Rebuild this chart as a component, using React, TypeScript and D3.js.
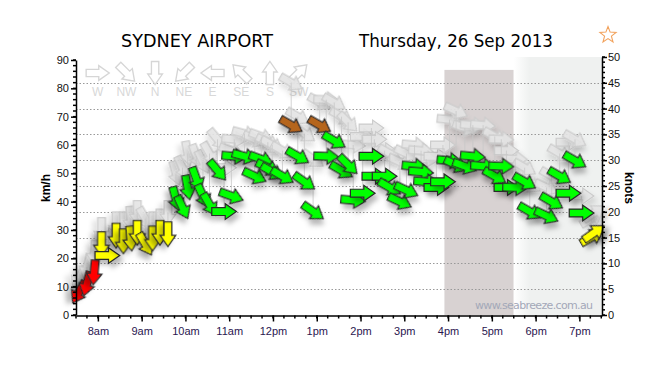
import React, { useEffect, useRef } from 'react';
import * as d3 from 'd3';

// observations (local time), speed + gust in km/h, direction wind comes FROM (deg)
const times = [
  "07:34", "07:45", "07:55", "08:05", "08:13", "08:25", "08:35", "08:45", "08:54", "09:05",
  "09:15", "09:25", "09:36", "09:47", "09:56", "10:03", "10:15", "10:24", "10:33", "10:44",
  "10:53", "11:03", "11:07", "11:21", "11:35", "11:44", "11:53", "11:59", "12:13", "12:25",
  "12:34", "12:43", "12:55", "13:04", "13:13", "13:24", "13:34", "13:43", "13:50", "14:03",
  "14:15", "14:19", "14:33", "14:40", "14:54", "15:03", "15:14", "15:23", "15:30", "15:44",
  "15:53", "16:02", "16:11", "16:23", "16:34", "16:48", "17:04", "17:13", "17:20", "17:32",
  "17:45", "17:52", "18:15", "18:22", "18:33", "18:45", "18:54", "19:03", "19:17", "19:20",
];
const speeds = [
  8, 11, 15, 25, 21, 28, 26, 27, 29, 25,
  27, 29, 28.5, 41, 38, 45, 48, 42, 39, 51,
  36.5, 42, 56, 56, 49, 55, 52, 50.5, 49, 67,
  56, 47, 36.5, 67, 56, 61.5, 51, 53, 40.5, 43,
  56, 49, 49, 45, 40, 44, 52.5, 50.5, 47, 45,
  47, 54.5, 53, 52.5, 56, 52.5, 49, 52.5, 45, 45,
  47, 36.5, 35, 40, 49, 43, 54.5, 36, 27.5, 29,
];
const gusts = [
  13, 17, 22, 30, 28, 32, 32, 34, 36, 34,
  32, 33, 36, 50, 52, 57, 56, 54, 57, 62,
  52, 58, 62, 64, 62, 63, 61, 60, 58, 82,
  70, 64, 55, 75, 76, 75, 70, 68, 60, 63,
  66, 62, 58, 57, 54, 57, 60, 58, 55, 56,
  60, 69, 72, 66, 67, 67, 63, 62, 58, 55,
  52, 46, 45, 49, 57, 61, 62, 42, 34, 36,
];
const directions = [
  30, 15, 5, 0, 270, 0, 0, 355, 0, 330,
  0, 0, 0, 345, 335, 350, 340, 335, 330, 320,
  270, 290, 275, 285, 295, 290, 295, 300, 300, 300,
  300, 305, 305, 300, 272, 300, 300, 315, 275, 270,
  270, 270, 270, 300, 295, 295, 275, 275, 275, 270,
  270, 275, 295, 290, 275, 275, 300, 272, 270, 272,
  300, 300, 295, 300, 300, 270, 300, 270, 240, 235,
];

const compassLabels = ["W", "NW", "N", "NE", "E", "SE", "S", "SW"];
const compassDirs = [270, 315, 0, 45, 90, 135, 180, 225];
const hourLabels = ["8am", "9am", "10am", "11am", "12pm", "1pm", "2pm", "3pm", "4pm", "5pm", "6pm", "7pm"];
const kmhTicks = [0, 10, 20, 30, 40, 50, 60, 70, 80, 90];
const knotTicks = [0, 5, 10, 15, 20, 25, 30, 35, 40, 45, 50];
const darkBand = ["15:55", "17:30"];
const lightBand = ["17:30", "19:31"];

const arrowPath = "M-11,-3.5L1,-3.5L1,-7L11,0L1,7L1,3.5L-11,3.5Z";

function App() {
  const svgRef = useRef(null);

  useEffect(() => {
    const width = 662;
    const height = 369;
    const parse = d3.timeParse("%H:%M");

    const svg = d3.select(svgRef.current)
      .attr("width", width)
      .attr("height", height);
    svg.selectAll("*").remove();

    const x = d3.scaleTime()
      .domain([parse("07:30"), parse("19:31")])
      .range([76, 602]);
    const kmh = d3.scaleLinear().domain([0, 90]).range([315, 60]);
    const knots = d3.scaleLinear().domain([0, 50]).range([315, 57]);

    const color = d3.scaleThreshold()
      .domain([10, 18, 35])
      .range(["#ff0000", "#ffff00", "#00ff00", "#b5651d"]);

    const defs = svg.append("defs");
    const sh = defs.append("filter").attr("id", "shadow")
      .attr("x", "-60%").attr("y", "-60%").attr("width", "220%").attr("height", "220%");
    sh.append("feDropShadow").attr("dx", 3).attr("dy", 4).attr("stdDeviation", 2.5)
      .attr("flood-color", "#000").attr("flood-opacity", 0.28);
    const sh2 = defs.append("filter").attr("id", "shadowLight")
      .attr("x", "-60%").attr("y", "-60%").attr("width", "220%").attr("height", "220%");
    sh2.append("feDropShadow").attr("dx", 3).attr("dy", 4).attr("stdDeviation", 2.5)
      .attr("flood-color", "#000").attr("flood-opacity", 0.12);
    const grad = defs.append("linearGradient").attr("id", "fade")
      .attr("x1", 0).attr("x2", 1).attr("y1", 0).attr("y2", 0);
    grad.append("stop").attr("offset", "0%").attr("stop-color", "#ffffff");
    grad.append("stop").attr("offset", "18%").attr("stop-color", "#eff1f0");
    grad.append("stop").attr("offset", "100%").attr("stop-color", "#eff1f0");

    svg.append("rect").attr("width", width).attr("height", height).attr("fill", "#fff");

    // shaded periods
    svg.append("rect")
      .attr("x", x(parse(darkBand[0])))
      .attr("y", knots(47.5))
      .attr("width", x(parse(darkBand[1])) - x(parse(darkBand[0])))
      .attr("height", knots(0) - knots(47.5))
      .attr("fill", "#d8d2d2");
    svg.append("rect")
      .attr("x", x(parse(lightBand[0])))
      .attr("y", knots(50))
      .attr("width", x(parse(lightBand[1])) - x(parse(lightBand[0])))
      .attr("height", knots(0) - knots(50))
      .attr("fill", "url(#fade)");

    // dotted grid on knots
    svg.append("g").selectAll("line")
      .data(knotTicks.filter((d) => d > 0 && d < 50))
      .enter().append("line")
      .attr("x1", 76).attr("x2", 602)
      .attr("y1", (d) => Math.round(knots(d)) + 0.5)
      .attr("y2", (d) => Math.round(knots(d)) + 0.5)
      .attr("stroke", "#999")
      .attr("stroke-dasharray", "1.5,2");

    svg.append("text")
      .attr("x", 534).attr("y", 309)
      .attr("text-anchor", "middle")
      .attr("font-family", "DejaVu Sans, sans-serif")
      .attr("font-size", 11)
      .attr("fill", "#a3a8b8")
      .attr("textLength", 118)
      .text("www.seabreeze.com.au");

    // compass key
    const key = svg.append("g").selectAll("g")
      .data(compassLabels)
      .enter().append("g")
      .attr("transform", (d, i) => `translate(${97.7 + i * 28.7},0)`);
    key.append("path")
      .attr("d", arrowPath)
      .attr("transform", (d, i) => `translate(0,73) rotate(${compassDirs[i] + 90}) scale(1.05)`)
      .attr("fill", "#fff")
      .attr("stroke", "#d6d6d6")
      .attr("stroke-width", 1.3);
    key.append("text")
      .attr("y", 96)
      .attr("text-anchor", "middle")
      .attr("font-family", "Liberation Sans, Arial, sans-serif")
      .attr("font-size", 12)
      .attr("fill", "#d8d8d8")
      .text((d) => d);

    const obs = times.map((t, i) => ({
      x: x(parse(t)),
      ys: kmh(speeds[i]),
      yg: kmh(gusts[i]),
      speed: speeds[i],
      dir: directions[i],
    }));

    // gust arrows
    svg.append("g").selectAll("path")
      .data(obs)
      .enter().append("path")
      .attr("d", arrowPath)
      .attr("transform", (d) => `translate(${d.x},${d.yg}) rotate(${d.dir + 90}) scale(1.12)`)
      .attr("fill", "#e4e4e4")
      .attr("fill-opacity", 0.9)
      .attr("stroke", "#cbcbcb")
      .attr("filter", "url(#shadowLight)");

    svg.append("g").selectAll("line")
      .data(obs)
      .enter().append("line")
      .attr("x1", (d) => d.x).attr("y1", (d) => d.ys)
      .attr("x2", (d) => d.x).attr("y2", (d) => d.yg)
      .attr("stroke", "#c8c8c8")
      .attr("stroke-width", 0.8);

    // wind arrows
    svg.append("g").selectAll("path")
      .data(obs)
      .enter().append("path")
      .attr("d", arrowPath)
      .attr("transform", (d) => `translate(${d.x},${d.ys}) rotate(${d.dir + 90}) scale(1.12)`)
      .attr("fill", (d) => color(d.speed / 1.852))
      .attr("stroke", "#2a2a2a")
      .attr("stroke-width", 1.1)
      .attr("filter", "url(#shadow)");

    const fontAxis = "Liberation Sans, Arial, sans-serif";

    // left axis
    const left = svg.append("g").attr("transform", "translate(76,0)");
    left.selectAll(".minor")
      .data(d3.range(0, 91, 2))
      .enter().append("line")
      .attr("x1", -3).attr("x2", 0)
      .attr("y1", (d) => kmh(d)).attr("y2", (d) => kmh(d))
      .attr("stroke", "#000").attr("stroke-width", 1.5);
    left.call(d3.axisLeft(kmh).tickValues(kmhTicks).tickSize(5).tickPadding(2).tickSizeOuter(0));

    // right axis
    const right = svg.append("g").attr("transform", "translate(602,0)");
    right.selectAll(".minor")
      .data(d3.range(0, 51, 1))
      .enter().append("line")
      .attr("x1", 0).attr("x2", 3)
      .attr("y1", (d) => knots(d)).attr("y2", (d) => knots(d))
      .attr("stroke", "#000").attr("stroke-width", 1.5);
    right.call(d3.axisRight(knots).tickValues(knotTicks).tickSize(5).tickPadding(1).tickSizeOuter(0));

    // bottom axis
    const hours = d3.timeHour.range(parse("08:00"), parse("19:30"));
    const bottom = svg.append("g").attr("transform", "translate(0,315.5)");
    bottom.selectAll(".minor")
      .data(d3.timeMinute.every(15).range(parse("07:30"), parse("19:31")))
      .enter().append("line")
      .attr("x1", (d) => x(d)).attr("x2", (d) => x(d))
      .attr("y1", 0).attr("y2", 3)
      .attr("stroke", "#000").attr("stroke-width", 1.5);
    bottom.call(d3.axisBottom(x).tickValues(hours)
      .tickFormat((d, i) => hourLabels[i]).tickSize(6).tickPadding(6).tickSizeOuter(0));

    [left, right, bottom].forEach((g) => {
      g.select(".domain").attr("stroke", "#000").attr("stroke-width", 1.5);
      g.selectAll(".tick line").attr("stroke", "#000").attr("stroke-width", 1.5);
      g.selectAll(".tick text").attr("font-family", fontAxis).attr("font-size", 11).attr("fill", "#111");
    });
    bottom.selectAll(".tick text").attr("fill", "#2a1650");

    // axis titles
    svg.append("text")
      .attr("transform", "translate(50,188) rotate(-90)")
      .attr("text-anchor", "middle")
      .attr("font-family", fontAxis).attr("font-weight", "bold").attr("font-size", 12)
      .text("km/h");
    svg.append("text")
      .attr("transform", "translate(625,188) rotate(90)")
      .attr("text-anchor", "middle")
      .attr("font-family", fontAxis).attr("font-weight", "bold").attr("font-size", 12)
      .text("knots");

    // titles
    svg.append("text")
      .attr("x", 197).attr("y", 47)
      .attr("text-anchor", "middle")
      .attr("font-family", "DejaVu Sans, sans-serif").attr("font-size", 18)
      .attr("textLength", 152).attr("lengthAdjust", "spacingAndGlyphs")
      .text("SYDNEY AIRPORT");
    svg.append("text")
      .attr("x", 456).attr("y", 47)
      .attr("text-anchor", "middle")
      .attr("font-family", "DejaVu Sans, sans-serif").attr("font-size", 18)
      .attr("textLength", 194).attr("lengthAdjust", "spacingAndGlyphs")
      .text("Thursday, 26 Sep 2013");

    // favourite star
    const starPts = d3.range(10).map((i) => {
      const r = i % 2 === 0 ? 8.5 : 3.6;
      const a = (i * Math.PI) / 5 - Math.PI / 2;
      return [608 + r * Math.cos(a), 35 + r * Math.sin(a)];
    });
    svg.append("path")
      .attr("d", d3.line()(starPts) + "Z")
      .attr("fill", "#fff")
      .attr("stroke", "#f2a25c")
      .attr("stroke-width", 1.1);
  }, []);

  return (
    <svg ref={svgRef} style={{ position: "absolute", left: 0, top: 0, display: "block" }}></svg>
  );
}

export default App;
